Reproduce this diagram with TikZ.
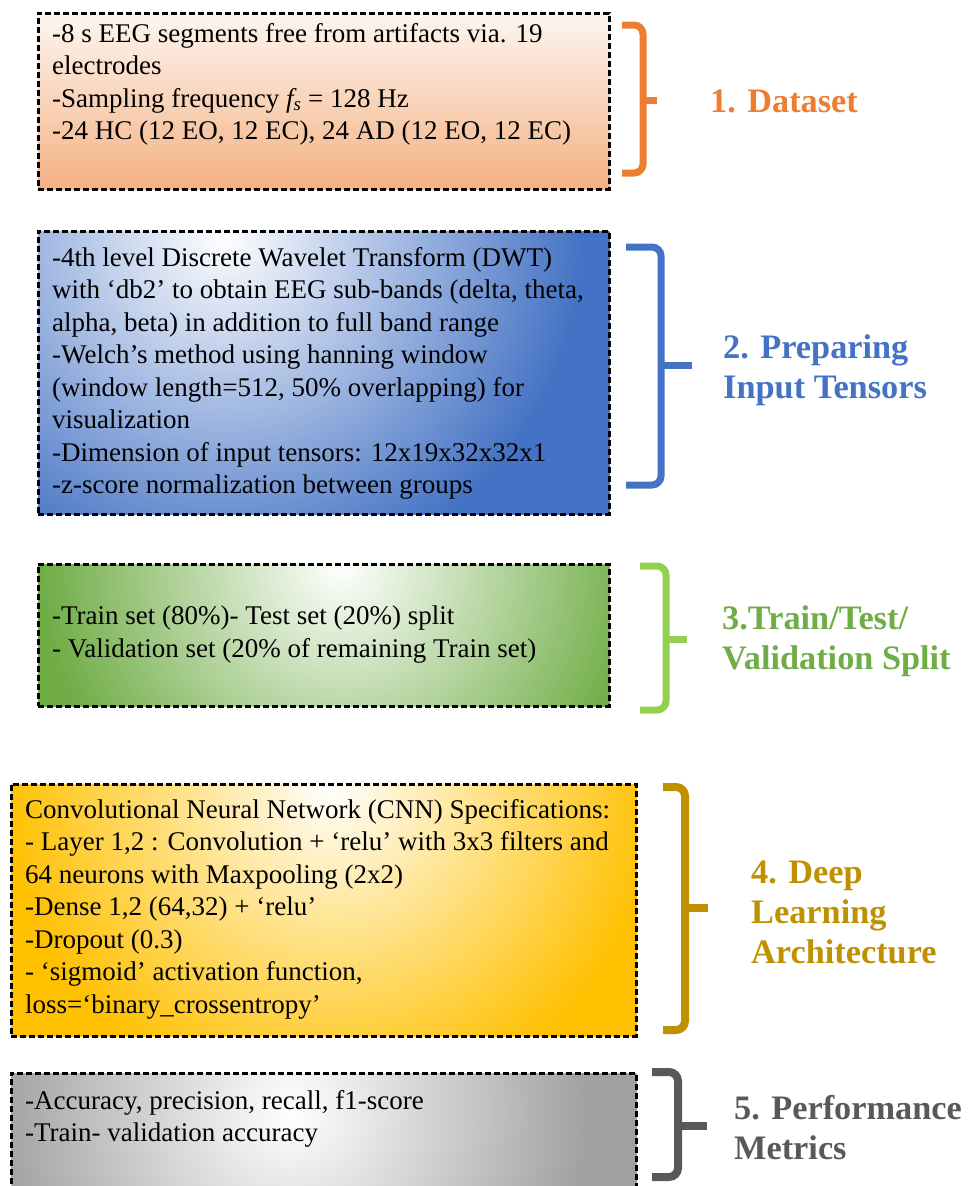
\documentclass[tikz,border=0pt]{standalone}
\usepackage{fontspec}
\setmainfont{Liberation Serif}

\definecolor{dataorange}{HTML}{ED7D31}
\definecolor{datapeach}{HTML}{F4B183}
\definecolor{tensorblue}{HTML}{4472C4}
\definecolor{splitgreen}{HTML}{70AD47}
\definecolor{splitlime}{HTML}{92D050}
\definecolor{cnngold}{HTML}{FFC000}
\definecolor{cnndark}{HTML}{BF9000}
\definecolor{metricgray}{HTML}{A0A0A0}
\definecolor{metricdark}{HTML}{595959}
\colorlet{glowout}{gray}
\pgfdeclareradialshading[glowout]{glow}{\pgfpointorigin}{color(0bp)=(white); color(12.5bp)=(glowout); color(50bp)=(glowout)}

\begin{document}
\begin{tikzpicture}[x=1pt,y=-1pt,
  panel/.style={draw=black, line width=2.5pt, dash pattern=on 6pt off 3pt, anchor=north west, inner sep=0pt},
  body/.style={anchor=north west, inner sep=0pt, align=left, font=\fontsize{27}{32.5}\selectfont},
  stage/.style={anchor=west, inner sep=0pt, align=left, font=\fontsize{34.3}{40}\selectfont\bfseries},
  bracket/.style={line width=7pt, rounded corners=9pt}]
\useasboundingbox (0,0) rectangle (970,1186);

% boxes
\node[panel, minimum width=571pt, minimum height=176pt, top color=datapeach!12!white, bottom color=datapeach] (dataset) at (37,12) {};
\node[panel, minimum width=571pt, minimum height=283pt,
  path picture={\colorlet{glowout}{tensorblue}\shade[shading=glow] ([shift={(185pt,-2pt)}]path picture bounding box.north west) circle (720pt);}] (tensors) at (37,230) {};
\node[panel, minimum width=571pt, minimum height=142pt,
  path picture={\colorlet{glowout}{splitgreen}\shade[shading=glow] ([shift={(303pt,0pt)}]path picture bounding box.north west) circle (600pt);}] (split) at (37,563) {};
\node[panel, minimum width=625pt, minimum height=252pt,
  path picture={\colorlet{glowout}{cnngold}\shade[shading=glow] ([shift={(320pt,0pt)}]path picture bounding box.north west) circle (660pt);}] (cnn) at (10,783) {};
\node[panel, minimum width=625pt, minimum height=130pt,
  path picture={\colorlet{glowout}{metricgray}\shade[shading=glow] ([shift={(280pt,-38pt)}]path picture bounding box.north west) circle (600pt);}] (metrics) at (10,1072) {};

% texts
\node[body] (dataset-txt) at (52,23) {-8 s EEG segments free from artifacts via. 19\\electrodes\\-Sampling frequency \textit{f\textsubscript{s}} = 128 Hz\\-24 HC (12 EO, 12 EC), 24 AD (12 EO, 12 EC)};
\node[body] (tensors-txt) at (52,247) {-4th level Discrete Wavelet Transform (DWT)\\with ‘db2’ to obtain EEG sub-bands (delta, theta,\\alpha, beta) in addition to full band range\\-Welch’s method using hanning window\\(window length=512, 50\% overlapping) for\\visualization\\-Dimension of input tensors: 12x19x32x32x1\\-z-score normalization between groups};
\node[body] (split-txt) at (52,606) {-Train set (80\%)- Test set (20\%) split\\- Validation set (20\% of remaining Train set)};
\node[body] (cnn-txt) at (25,799) {Convolutional Neural Network (CNN) Specifications:\\- Layer 1,2 : Convolution + ‘relu’ with 3x3 filters and\\64 neurons with Maxpooling (2x2)\\-Dense 1,2 (64,32) + ‘relu’\\-Dropout (0.3)\\- ‘sigmoid’ activation function,\\loss=‘binary\_crossentropy’};
\node[body] (metrics-txt) at (25,1090) {-Accuracy, precision, recall, f1-score\\-Train- validation accuracy};

% labels
\node[stage, text=dataorange] (dataset-lbl) at (710,101) {1. Dataset};
\node[stage, text=tensorblue] (tensors-lbl) at (723,370) {2. Preparing\\Input Tensors};
\node[stage, text=splitgreen] (split-lbl) at (722,641) {3.Train/Test/\\Validation Split};
\node[stage, text=cnndark] (cnn-lbl) at (751,912) {4. Deep\\Learning\\Architecture};
\node[stage, text=metricdark] (metrics-lbl) at (734,1128) {5. Performance\\Metrics};

% braces
\draw[bracket, dataorange] (622,25) -- (643,25) -- (643,173) -- (622,173);
\draw[line width=7pt, dataorange] (643,100) -- (657,100);
\draw[bracket, tensorblue] (626,247) -- (661,247) -- (661,485) -- (626,485);
\draw[line width=7pt, tensorblue] (661,365) -- (692,365);
\draw[bracket, splitlime] (640,566) -- (666,566) -- (666,710) -- (640,710);
\draw[line width=7pt, splitlime] (666,639) -- (687,639);
\draw[bracket, line width=8pt, cnndark] (663,787) -- (685,787) -- (685,1030) -- (663,1030);
\draw[line width=8pt, cnndark] (685,908) -- (708,908);
\draw[bracket, line width=8pt, metricdark] (652,1072) -- (678,1072) -- (678,1177) -- (652,1177);
\draw[line width=8pt, metricdark] (678,1126) -- (707,1126);
\end{tikzpicture}
\end{document}
